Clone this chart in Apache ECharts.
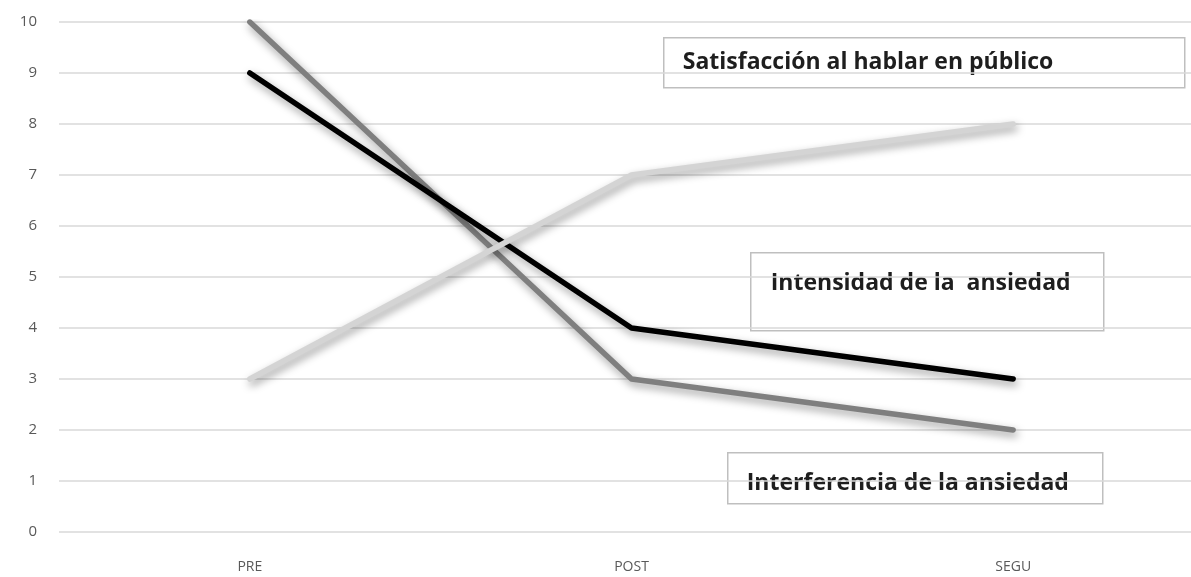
<!DOCTYPE html>
<html>
<head>
<meta charset="utf-8">
<script src="https://cdn.jsdelivr.net/npm/echarts@6/dist/echarts.min.js"></script>
<style>
  html, body { margin: 0; padding: 0; background: #fff; }
  #chart { width: 1191px; height: 577px; }
</style>
</head>
<body>
<div id="chart"></div>
<script>
// 数据
const categories = ['PRE', 'POST', 'SEGU']
const intensidad = [9, 4, 3]
const interferencia = [10, 3, 2]
const satisfaccion = [3, 7, 8]
const yTicks = [0, 1, 2, 3, 4, 5, 6, 7, 8, 9, 10]

const chart = echarts.init(document.getElementById('chart'))

// 线条样式
function lineSetting(color) {
  return {
    color: color,
    width: 5.5,
    cap: 'round',
    join: 'round',
    shadowColor: 'rgba(0,0,0,0.4)',
    shadowBlur: 8,
    shadowOffsetX: 2,
    shadowOffsetY: 4
  }
}

// 文本框
function labelBox(x, y, w, h, tx, ty, text, size) {
  return {
    type: 'group',
    left: x,
    top: y,
    children: [
      {
        type: 'rect',
        shape: { x: 0, y: 0, width: w, height: h },
        style: { fill: '#fff', stroke: '#bfbfbf', lineWidth: 1.5 }
      },
      {
        type: 'text',
        x: tx,
        y: ty,
        style: {
          text: text,
          font: `bold ${size}px "Open Sans"`,
          fill: '#1e1e1e',
          verticalAlign: 'middle'
        }
      }
    ]
  }
}

const option = {
  animation: false,
  backgroundColor: '#fff',
  grid: { left: 59, top: 22, width: 1145, height: 510, outerBoundsMode: 'none' },
  xAxis: {
    type: 'category',
    data: categories,
    boundaryGap: true,
    axisLine: { show: false },
    axisTick: { show: false },
    axisLabel: { color: '#595959', fontSize: 14, fontFamily: 'Open Sans', margin: 28 }
  },
  yAxis: {
    type: 'value',
    min: yTicks[0],
    max: yTicks[yTicks.length - 1],
    interval: 1,
    axisLine: { show: false },
    axisTick: { show: false },
    splitLine: { lineStyle: { color: '#d9d9d9', width: 1.5 } },
    axisLabel: { color: '#595959', fontSize: 15, fontFamily: 'Open Sans', margin: 22 }
  },
  series: [
    {
      name: 'Interferencia de la ansiedad',
      type: 'line',
      data: interferencia,
      symbol: 'none',
      lineStyle: lineSetting('#7f7f7f'),
      z: 2
    },
    {
      name: 'Intensidad de la ansiedad',
      type: 'line',
      data: intensidad,
      symbol: 'none',
      lineStyle: lineSetting('#000000'),
      z: 3
    },
    {
      name: 'Satisfacción al hablar en público',
      type: 'line',
      data: satisfaccion,
      symbol: 'none',
      lineStyle: lineSetting('#d4d4d4'),
      z: 4
    }
  ],
  graphic: {
    elements: [
      labelBox(663, 37, 521, 50, 19, 25, 'Satisfacción al hablar en público', 23),
      labelBox(750, 252, 353, 78, 20, 31, 'Intensidad de la  ansiedad', 23),
      labelBox(727, 452, 375, 51, 19, 31, 'Interferencia de la ansiedad', 23)
    ]
  }
}

chart.setOption(option)
</script>
</body>
</html>
